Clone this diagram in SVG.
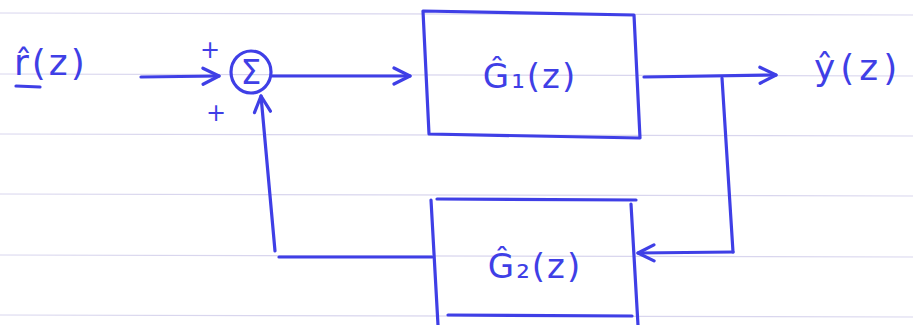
<svg xmlns="http://www.w3.org/2000/svg" width="913" height="325" viewBox="0 0 913 325">
  <style>
    .rule { stroke: #d9d6ee; stroke-width: 1.2; }
    .ink { fill: none; stroke: #3f3fe6; stroke-width: 3.2; stroke-linecap: round; stroke-linejoin: round; }
    .lbl { fill: #3f3fe6; font-family: "DejaVu Sans", sans-serif; }
  </style>
  <defs>
    <marker id="arrow" viewBox="0 0 20 20" refX="18" refY="10" markerWidth="20" markerHeight="20" markerUnits="userSpaceOnUse" orient="auto">
      <path d="M2,2 L18,10 L2,18" fill="none" stroke="#3f3fe6" stroke-width="3.2" stroke-linecap="round" stroke-linejoin="round"/>
    </marker>
  </defs>

  <!-- ruled paper -->
  <rect width="913" height="325" fill="#ffffff"/>
  <g id="paper">
    <line class="rule" x1="0" y1="13" x2="913" y2="15"/>
    <line class="rule" x1="0" y1="74" x2="913" y2="76"/>
    <line class="rule" x1="0" y1="134" x2="913" y2="136"/>
    <line class="rule" x1="0" y1="194" x2="913" y2="196"/>
    <line class="rule" x1="0" y1="255" x2="913" y2="257"/>
    <line class="rule" x1="0" y1="315" x2="913" y2="317"/>
  </g>

  <!-- connectors -->
  <g id="connectors">
    <path class="ink" d="M141,77 L219,76" marker-end="url(#arrow)"/>
    <path class="ink" d="M272,76 L410,76" marker-end="url(#arrow)"/>
    <path class="ink" d="M644,77 L776,75" marker-end="url(#arrow)"/>
    <path class="ink" d="M722,78 L733,252"/>
    <path class="ink" d="M733,252 L638,253" marker-end="url(#arrow)"/>
    <path class="ink" d="M432,257 L279,257"/>
    <path class="ink" d="M275,251 L261,96" marker-end="url(#arrow)"/>
  </g>

  <!-- input label -->
  <g id="input">
    <text class="lbl" x="14" y="75" font-size="36" letter-spacing="3">r̂(z)</text>
    <line class="ink" x1="16" y1="86" x2="40" y2="87"/>
  </g>

  <!-- summing junction -->
  <g id="sum">
    <ellipse class="ink" cx="251" cy="72" rx="20" ry="21"/>
    <text class="lbl" x="251" y="84" font-size="33" text-anchor="middle">Σ</text>
    <text class="lbl" x="210" y="58" font-size="24" text-anchor="middle">+</text>
    <text class="lbl" x="216" y="121" font-size="24" text-anchor="middle">+</text>
  </g>

  <!-- forward block -->
  <g id="G1">
    <path class="ink" d="M423,11 L634,15 L640,138 L429,134 Z"/>
    <text class="lbl" x="530" y="88" font-size="34" letter-spacing="2" text-anchor="middle">Ĝ₁(z)</text>
  </g>

  <!-- output label -->
  <g id="output">
    <text class="lbl" x="814" y="80" font-size="36" letter-spacing="5">ŷ(z)</text>
  </g>

  <!-- feedback block -->
  <g id="G2">
    <path class="ink" d="M431,200 L438,325"/>
    <path class="ink" d="M437,199 L636,200"/>
    <path class="ink" d="M631,204 L638,325"/>
    <path class="ink" d="M448,315 L632,316"/>
    <text class="lbl" x="535" y="278" font-size="34" letter-spacing="2" text-anchor="middle">Ĝ₂(z)</text>
  </g>
</svg>
